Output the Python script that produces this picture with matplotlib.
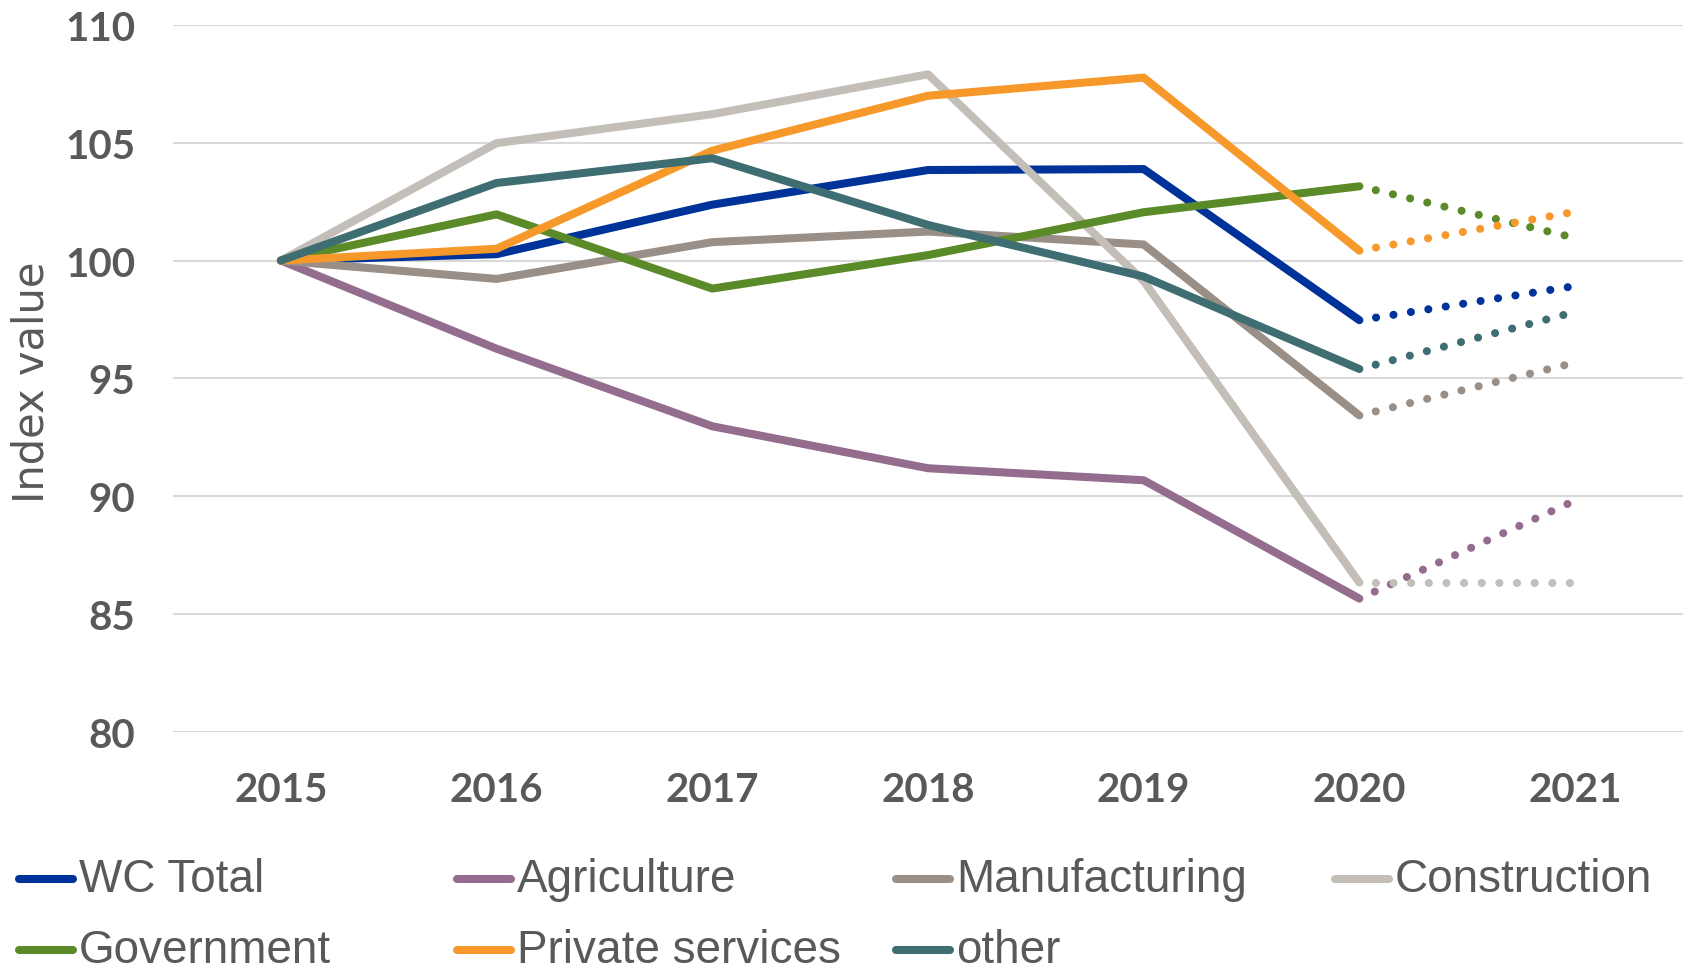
import matplotlib.pyplot as plt
import numpy as np
from matplotlib.lines import Line2D

years = ["2015", "2016", "2017", "2018", "2019", "2020", "2021"]
names = ["WC Total", "Agriculture", "Manufacturing", "Construction",
         "Government", "Private services", "other"]
colors = ["#00339A", "#946D8E", "#9A8F87", "#C3BEB8",
          "#5B8A28", "#F7992A", "#3E6E72"]

# index values, 2015 = 100 (2021 is the projected year)
wc_total      = [100, 100.27, 102.37, 103.84, 103.88, 97.47, 98.92]
agriculture   = [100, 96.26, 92.97, 91.19, 90.68, 85.66, 89.82]
manufacturing = [100, 99.22, 100.78, 101.23, 100.68, 93.43, 95.67]
construction  = [100, 104.98, 106.21, 107.90, 99.13, 86.34, 86.34]
government    = [100, 101.96, 98.81, 100.23, 102.05, 103.15, 100.96]
private_serv  = [100, 100.50, 104.66, 106.99, 107.76, 100.42, 102.07]
other         = [100, 103.29, 104.34, 101.51, 99.32, 95.40, 97.82]

series = [wc_total, agriculture, manufacturing, construction,
          government, private_serv, other]

grey = "#595959"
lw = 5.8
fig = plt.figure(figsize=(16.88, 9.70), dpi=100)
ax = fig.add_axes([0.1025, 0.2443, 0.8945, 0.7291])

x = np.arange(len(years))
for vals, c in zip(series, colors):
    ax.plot(x[:6], vals[:6], color=c, lw=lw, solid_capstyle="round",
            solid_joinstyle="round")
    # projection drawn as round dots
    ax.plot(x[5:], vals[5:], color=c, lw=lw, dash_capstyle="round",
            linestyle=(0.1, (0.01, 2.18)))

ax.set_xlim(-0.5, 6.5)
ax.set_ylim(80, 110)
ax.set_yticks(np.arange(80, 111, 5))
ax.set_xticks(x)
ax.set_xticklabels(years)
ax.yaxis.grid(True, color="#D9D9D9", lw=1.5)
ax.set_axisbelow(True)
for s in ax.spines.values():
    s.set_visible(False)
ax.tick_params(length=0, labelcolor=grey, labelsize=29)
ax.tick_params(axis="x", pad=28)
ax.tick_params(axis="y", pad=27)
for lab in ax.get_xticklabels() + ax.get_yticklabels():
    lab.set_fontweight("bold")
    lab.set_family("Lato")
fig.text(0.0185, 0.606, "Index value", rotation=90, ha="center", va="center",
         fontsize=30, color=grey)

# legend: 2 rows x 4 columns
col_x = [19, 457, 896, 1335]
row_y = [880, 951]
W, H = 1688, 970
for i, (name, c) in enumerate(zip(names, colors)):
    r, k = divmod(i, 4)
    x0 = col_x[k] / W
    y0 = 1 - row_y[r] / H
    fig.add_artist(Line2D([x0, x0 + 54 / W], [y0, y0], color=c, lw=lw,
                          solid_capstyle="round", transform=fig.transFigure))
    fig.text(x0 + 60 / W, y0, name, ha="left", va="center", fontsize=33,
             color=grey, family="Liberation Sans")

fig.savefig("out.png", dpi=100)
